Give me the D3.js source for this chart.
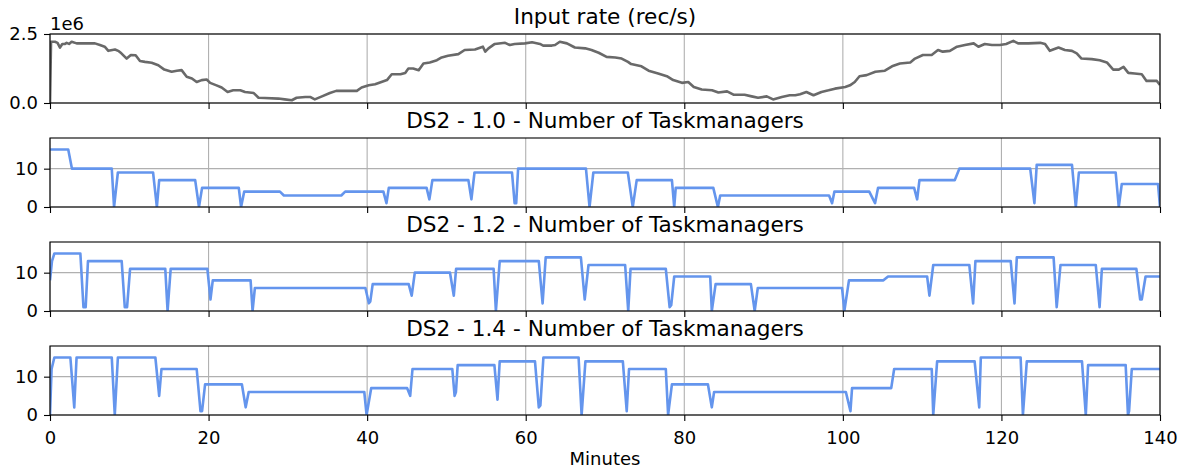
<!DOCTYPE html>
<html>
<head>
<meta charset="utf-8">
<script src="https://cdn.jsdelivr.net/npm/d3@7"></script>
<style>
    body { margin: 0; background: #fff; }
    svg text { font-family: "DejaVu Sans", sans-serif; fill: #000; }
</style>
</head>
<body>
<div id="chart"></div>
<script>
// x axis
const xTicks = [0, 20, 40, 60, 80, 100, 120, 140];

// input rate, [minute, rate in 1e6 rec/s]
const inputRate = [[0,0],[0.13,2.22],[0.63,2.22],[0.95,2.18],[1.26,2.01],[1.55,2.14],[1.89,2.14],[2.1,2.18],[2.4,2.14],[2.73,2.22],[3.36,2.16],[5.67,2.16],[6.3,2.10],[6.9,2.04],[7.36,1.89],[8.2,1.94],[8.6,1.89],[9.0,1.80],[9.67,1.61],[10.2,1.74],[10.8,1.73],[11.35,1.52],[11.98,1.49],[12.82,1.46],[13.66,1.37],[14.42,1.21],[15.34,1.13],[16.0,1.17],[16.6,1.19],[17.24,0.95],[17.9,0.89],[18.5,0.76],[19.13,0.83],[19.76,0.85],[20.2,0.73],[21.0,0.64],[21.65,0.56],[22.4,0.40],[23.1,0.46],[24.0,0.46],[24.6,0.40],[25.7,0.36],[26.3,0.19],[27.1,0.18],[28.8,0.16],[29.6,0.13],[30.5,0.10],[31.1,0.19],[32.2,0.22],[32.8,0.22],[33.4,0.13],[34.3,0.24],[35.3,0.36],[36.1,0.44],[38.7,0.44],[39.3,0.56],[40.2,0.64],[41.0,0.68],[41.8,0.76],[42.5,0.83],[43.1,1.04],[44.2,1.04],[44.8,1.09],[45.2,1.25],[45.8,1.25],[46.5,1.19],[47.1,1.43],[47.9,1.47],[48.8,1.55],[49.4,1.65],[50.2,1.71],[51.5,1.77],[52.3,1.92],[53.6,1.94],[54.6,2.04],[54.9,1.86],[55.3,1.98],[56.1,2.14],[57.4,2.18],[58.0,2.10],[58.6,2.14],[59.9,2.16],[60.8,2.20],[61.8,2.14],[62.2,2.08],[63.3,2.08],[63.7,2.10],[64.3,2.22],[65.2,2.16],[66.2,2.01],[67.5,1.98],[68.3,1.92],[69.2,1.82],[70.2,1.67],[71.3,1.65],[72.1,1.61],[72.9,1.49],[73.3,1.41],[74.6,1.33],[75.5,1.17],[76.7,1.07],[77.8,0.97],[78.6,0.83],[79.7,0.73],[80.5,0.76],[81.2,0.58],[82.2,0.49],[83.5,0.46],[84.3,0.38],[85.4,0.42],[86.2,0.30],[87.6,0.30],[88.5,0.24],[89.3,0.19],[90.4,0.24],[91.2,0.13],[92.3,0.22],[93.3,0.28],[94.0,0.28],[94.6,0.32],[95.4,0.40],[96.3,0.28],[97.3,0.40],[98.2,0.46],[99.0,0.52],[100.3,0.58],[100.9,0.64],[101.5,0.76],[102.1,0.97],[103.0,1.01],[104.1,1.13],[105.3,1.17],[106.2,1.33],[107.2,1.43],[108.5,1.47],[109.1,1.61],[110.1,1.74],[111.2,1.74],[112.0,1.92],[112.6,1.86],[113.5,1.89],[114.4,2.04],[115.4,2.10],[116.5,2.16],[117.1,2.04],[117.9,2.14],[118.8,2.10],[119.8,2.10],[120.6,2.14],[121.5,2.25],[122.1,2.16],[123.4,2.16],[124.9,2.18],[125.5,2.14],[126.1,1.89],[127.2,2.01],[128.0,1.92],[128.9,1.89],[129.5,1.80],[130.1,1.61],[131.4,1.59],[132.4,1.55],[133.3,1.47],[134.1,1.21],[134.8,1.21],[135.4,1.31],[136.0,1.09],[136.8,1.07],[137.7,1.04],[138.3,0.80],[139.6,0.80],[140,0.65]];

// number of taskmanagers, [minute, count]
const ds2_10 = [[0,15],[2.3,15],[2.77,10],[7.79,10],[8.08,0],[8.56,9],[13.0,9],[13.48,0],[13.77,7],[18.31,7],[18.79,0],[19.18,5],[23.81,5],[24.1,0],[24.49,4],[29.0,4],[29.5,3],[36.74,3],[37.23,4],[42.05,4],[42.44,1],[42.73,5],[47.5,5],[47.85,2],[48.23,7],[52.77,7],[53.15,2],[53.54,9],[58.27,9],[58.6,1],[58.8,1],[59.04,10],[67.6,10],[68.05,0],[68.53,9],[72.88,9],[73.5,0],[74.0,7],[78.44,7],[78.73,0],[78.92,5],[83.66,5],[84.24,0],[84.53,3],[98.26,3],[98.64,1],[98.93,4],[103.33,4],[104.06,1],[104.44,5],[108.99,5],[109.37,2],[109.66,7],[114.11,7],[114.69,10],[123.63,10],[124.16,1],[124.45,11],[128.9,11],[129.38,0],[129.77,9],[134.41,9],[134.8,0],[135.18,6],[139.75,6],[140,0]];

const ds2_12 = [[0,8],[0.25,13],[0.55,15],[3.83,15],[4.22,1],[4.5,1],[4.79,13],[9.04,13],[9.43,1],[9.72,1],[10.1,11],[14.54,11],[14.83,0],[15.22,11],[19.85,11],[20.24,3],[20.53,8],[25.3,8],[25.55,0],[25.84,6],[39.78,6],[40.22,2],[40.4,2.5],[40.7,7],[45.24,7],[45.62,4],[46.01,10],[50.45,10],[50.93,4],[51.22,11],[55.95,11],[56.24,0],[56.72,13],[61.65,13],[62.13,2],[62.52,14],[66.96,14],[67.44,3],[67.92,12],[72.54,12],[72.93,0],[73.22,11],[77.67,11],[78.15,1],[78.35,1.5],[78.73,9],[83.27,9],[83.47,0],[83.95,7],[88.4,7],[88.88,0],[89.27,6],[99.9,6],[100.19,0],[100.77,8],[105.12,8],[105.7,9],[110.63,9],[110.92,4],[111.4,12],[115.95,12],[116.43,2],[116.72,13],[121.17,13],[121.65,2],[121.94,14],[126.58,14],[126.97,1],[127.45,12],[131.9,12],[132.38,1],[132.67,11],[137.02,11],[137.5,3],[137.7,3],[138.18,9],[140,9]];

const ds2_14 = [[0,0],[0.2,12],[0.55,15],[2.57,15],[3.06,2],[3.35,15],[7.79,15],[8.17,0],[8.56,15],[13.29,15],[13.77,5],[14.06,12],[18.5,12],[18.98,1],[19.18,1],[19.56,8],[24.2,8],[24.68,2],[25.06,6],[39.64,6],[39.93,0],[40.51,7],[45.05,7],[45.43,5],[45.72,12],[50.74,12],[51.03,5],[51.2,6],[51.42,13],[56.05,13],[56.44,4],[56.72,14],[61.17,14],[61.65,2],[61.85,2.5],[62.23,15],[66.67,15],[67.05,0],[67.53,14],[72.25,14],[72.74,1],[73.03,12],[77.67,12],[77.96,0],[78.44,8],[82.98,8],[83.47,2],[83.76,6],[100.38,6],[100.96,1],[101.16,7],[106.1,7],[106.47,12],[111.21,12],[111.4,0],[111.89,14],[116.62,14],[117.2,2],[117.4,15],[122.42,15],[122.71,0],[123.2,14],[130.16,14],[130.64,0],[130.93,13],[135.67,13],[135.96,0],[136.1,1],[136.44,12],[140,12]];

const titles = ["Input rate (rec/s)", "DS2 - 1.0 - Number of Taskmanagers",
    "DS2 - 1.2 - Number of Taskmanagers", "DS2 - 1.4 - Number of Taskmanagers"];

const width = 1181, height = 470;
const margin = { left: 50, right: 21 };
const panelTops = [34, 138, 242, 346];
const panelHeight = 69;

const panels = [
    { title: titles[0], data: inputRate, yMax: 2.5, yTicks: [0, 2.5], fmt: d3.format(".1f"), color: "#696969", offset: "1e6" },
    { title: titles[1], data: ds2_10, yMax: 18, yTicks: [0, 10], fmt: d3.format("d"), color: "#6495ED" },
    { title: titles[2], data: ds2_12, yMax: 18, yTicks: [0, 10], fmt: d3.format("d"), color: "#6495ED" },
    { title: titles[3], data: ds2_14, yMax: 18, yTicks: [0, 10], fmt: d3.format("d"), color: "#6495ED" }
];

const svg = d3.select("#chart").append("svg")
    .attr("width", width)
    .attr("height", height);

const x = d3.scaleLinear().domain([0, 140]).range([margin.left, width - margin.right]);

panels.forEach((p, i) => {
    const top = panelTops[i];
    const y = d3.scaleLinear().domain([0, p.yMax]).range([top + panelHeight, top]);
    const g = svg.append("g");

    // clip
    svg.append("clipPath").attr("id", "clip" + i)
        .append("rect")
        .attr("x", x(0)).attr("y", top)
        .attr("width", x(140) - x(0)).attr("height", panelHeight);

    // grid
    g.selectAll(".vgrid").data(xTicks).enter().append("line")
        .attr("x1", d => x(d)).attr("x2", d => x(d))
        .attr("y1", top).attr("y2", top + panelHeight)
        .attr("stroke", "#b0b0b0").attr("stroke-width", 1.1);
    g.selectAll(".hgrid").data(p.yTicks).enter().append("line")
        .attr("x1", x(0)).attr("x2", x(140))
        .attr("y1", d => y(d)).attr("y2", d => y(d))
        .attr("stroke", "#b0b0b0").attr("stroke-width", 1.1);

    // the series
    const line = d3.line().x(d => x(d[0])).y(d => y(d[1]));
    g.append("path")
        .datum(p.data)
        .attr("clip-path", "url(#clip" + i + ")")
        .attr("fill", "none")
        .attr("stroke", p.color)
        .attr("stroke-width", 2.6)
        .attr("stroke-linejoin", "round")
        .attr("d", line);

    // frame
    g.append("rect")
        .attr("x", x(0)).attr("y", top)
        .attr("width", x(140) - x(0)).attr("height", panelHeight)
        .attr("fill", "none").attr("stroke", "#000").attr("stroke-width", 1.1);

    // axes
    const xAxis = g.append("g")
        .attr("transform", "translate(0," + (top + panelHeight) + ")")
        .call(d3.axisBottom(x).tickValues(xTicks).tickSize(6).tickPadding(6)
            .tickFormat(i === panels.length - 1 ? d3.format("d") : ""));
    const yAxis = g.append("g")
        .attr("transform", "translate(" + x(0) + ",0)")
        .call(d3.axisLeft(y).tickValues(p.yTicks).tickSize(6).tickPadding(6).tickFormat(p.fmt));
    [xAxis, yAxis].forEach(a => {
        a.select(".domain").remove();
        a.selectAll("line").attr("stroke", "#000").attr("stroke-width", 1.1);
        a.selectAll("text").attr("font-size", 18).attr("font-family", "DejaVu Sans, sans-serif");
    });
    xAxis.selectAll("text").attr("dy", "0.95em");

    // title
    svg.append("text")
        .attr("x", (x(0) + x(140)) / 2)
        .attr("y", top - 10)
        .attr("text-anchor", "middle")
        .attr("font-size", 21.6)
        .text(p.title);

    if (p.offset) {
        svg.append("text")
            .attr("x", x(0))
            .attr("y", top - 4)
            .attr("font-size", 18)
            .text(p.offset);
    }
});

svg.append("text")
    .attr("x", (x(0) + x(140)) / 2)
    .attr("y", 465)
    .attr("text-anchor", "middle")
    .attr("font-size", 18)
    .text("Minutes");
</script>
</body>
</html>
